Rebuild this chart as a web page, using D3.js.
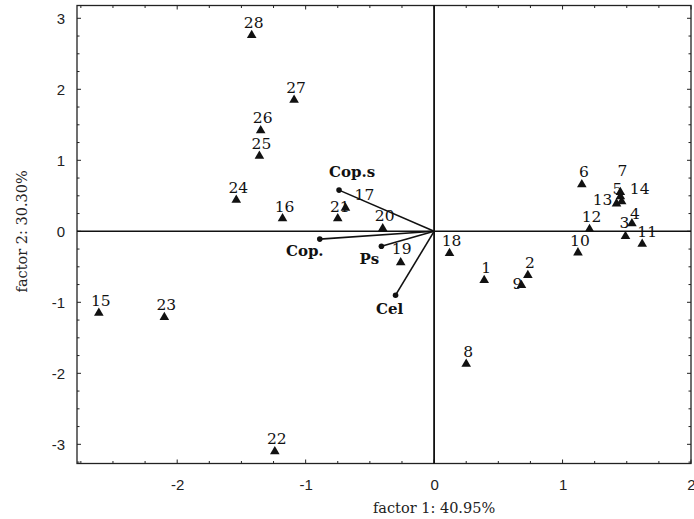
<!DOCTYPE html>
<html>
<head>
<meta charset="utf-8">
<script src="https://cdn.jsdelivr.net/npm/d3@7"></script>
<style>
  html, body { margin: 0; padding: 0; background: #fff; }
  svg { display: block; font-family: "DejaVu Serif", "Liberation Serif", serif; }
  .tick-text { font-size: 15px; fill: #222; }
  .axis-label { font-size: 14.5px; fill: #222; }
  .pt-label { font-size: 15.5px; fill: #111; }
  .var-label { font-size: 15px; font-weight: bold; fill: #111; }
</style>
</head>
<body>
<svg id="chart" width="694" height="519"></svg>
<script>
// observations (PCA scores)
const obsIds = ['1','2','3','4','5','6','7','8','9','10','11','12','13','14',
                '15','16','17','18','19','20','21','22','23','24','25','26','27','28'];
const obsF1 = [0.39, 0.73, 1.49, 1.54, 1.45, 1.15, 1.45, 0.25, 0.68, 1.12, 1.62, 1.21, 1.42, 1.46,
               -2.61, -1.18, -0.69, 0.12, -0.26, -0.40, -0.75, -1.24, -2.10, -1.54, -1.36, -1.35, -1.09, -1.42];
const obsF2 = [-0.69, -0.62, -0.07, 0.11, 0.49, 0.66, 0.55, -1.87, -0.76, -0.30, -0.18, 0.03, 0.39, 0.42,
               -1.15, 0.18, 0.33, -0.31, -0.44, 0.04, 0.18, -3.10, -1.21, 0.44, 1.06, 1.42, 1.85, 2.76];

// variables (loadings)
const varNames = ['Cop.s', 'Cop.', 'Ps', 'Cel'];
const varF1 = [-0.74, -0.89, -0.41, -0.30];
const varF2 = [0.58, -0.11, -0.21, -0.90];

const xTicks = [-2, -1, 0, 1, 2];
const yTicks = [-3, -2, -1, 0, 1, 2, 3];

// label nudges (px) where the default "centred above" would clash
const nudge = {
  '17': [19, -1], '9': [-4, 11], '13': [-14, 8], '14': [18, 0], '5': [-3, 4],
  '7': [2, -9], '11': [5, 0], '3': [-1, -1], '4': [3, 3], '19': [1, -2]
};
const varNudge = {
  'Cop.s': [13, -13, 'middle'], 'Cop.': [-15, 17, 'middle'], 'Ps': [-12, 18, 'middle'], 'Cel': [-6, 19, 'middle']
};

const svg = d3.select('#chart');
const margin = { top: 5.5, right: 3, bottom: 55.5, left: 77 };
const W = 694, H = 519;
const iW = W - margin.left - margin.right;
const iH = H - margin.top - margin.bottom;

const x = d3.scaleLinear().domain([-2.78, 2.0]).range([0, iW]);
const y = d3.scaleLinear().domain([-3.27, 3.18]).range([iH, 0]);

const g = svg.append('g').attr('transform', `translate(${margin.left},${margin.top})`);

// frame
g.append('rect').attr('x', 0).attr('y', 0).attr('width', iW).attr('height', iH)
  .attr('fill', 'none').attr('stroke', '#222').attr('stroke-width', 1.3);

// inside ticks on all four sides
const minorX = d3.range(-2.75, 2.01, 0.25);
const minorY = d3.range(-3.25, 3.01, 0.25);
const isMajor = v => Math.abs(v - Math.round(v)) < 1e-6;
const tickLen = v => isMajor(v) ? 4 : 2.5;

g.append('g').selectAll('line').data(minorX).join('line')
  .attr('x1', d => x(d)).attr('x2', d => x(d)).attr('y1', iH).attr('y2', d => iH - tickLen(d))
  .attr('stroke', '#222');
g.append('g').selectAll('line').data(minorX).join('line')
  .attr('x1', d => x(d)).attr('x2', d => x(d)).attr('y1', 0).attr('y2', d => tickLen(d))
  .attr('stroke', '#222');
g.append('g').selectAll('line').data(minorY).join('line')
  .attr('y1', d => y(d)).attr('y2', d => y(d)).attr('x1', 0).attr('x2', d => tickLen(d))
  .attr('stroke', '#222');
g.append('g').selectAll('line').data(minorY).join('line')
  .attr('y1', d => y(d)).attr('y2', d => y(d)).attr('x1', iW).attr('x2', d => iW - tickLen(d))
  .attr('stroke', '#222');

// axes (labels only)
const xAxis = g.append('g').attr('transform', `translate(0,${iH})`)
  .call(d3.axisBottom(x).tickValues(xTicks).tickSize(0).tickPadding(16).tickFormat(d3.format('d')));
xAxis.select('.domain').remove();
xAxis.selectAll('text').attr('class', 'tick-text').attr('font-family', null).attr('font-size', null);

const yAxis = g.append('g')
  .call(d3.axisLeft(y).tickValues(yTicks).tickSize(0).tickPadding(12).tickFormat(d3.format('d')));
yAxis.select('.domain').remove();
yAxis.selectAll('text').attr('class', 'tick-text').attr('font-family', null).attr('font-size', null);
svg.selectAll('.tick-text').text(d => String(d).replace('\u2212', '-'));

// axis titles
g.append('text').attr('class', 'axis-label')
  .attr('x', x(0)).attr('y', iH + 49).attr('text-anchor', 'middle')
  .text('factor 1: 40.95%');
g.append('text').attr('class', 'axis-label')
  .attr('transform', 'rotate(-90)')
  .attr('x', -y(0)).attr('y', -50).attr('text-anchor', 'middle')
  .text('factor 2: 30.30%');

// zero lines
g.append('line').attr('x1', 0).attr('x2', iW).attr('y1', y(0)).attr('y2', y(0))
  .attr('stroke', '#111').attr('stroke-width', 1.5);
g.append('line').attr('x1', x(0)).attr('x2', x(0)).attr('y1', 0).attr('y2', iH)
  .attr('stroke', '#111').attr('stroke-width', 1.8);

// variable vectors
const vars = varNames.map((n, i) => ({ name: n, f1: varF1[i], f2: varF2[i] }));
g.append('g').selectAll('line').data(vars).join('line')
  .attr('x1', x(0)).attr('y1', y(0))
  .attr('x2', d => x(d.f1)).attr('y2', d => y(d.f2))
  .attr('stroke', '#111').attr('stroke-width', 1.6);
g.append('g').selectAll('circle').data(vars).join('circle')
  .attr('cx', d => x(d.f1)).attr('cy', d => y(d.f2)).attr('r', 2.8).attr('fill', '#111');
g.append('g').selectAll('text').data(vars).join('text')
  .attr('class', 'var-label')
  .attr('x', d => x(d.f1) + varNudge[d.name][0])
  .attr('y', d => y(d.f2) + varNudge[d.name][1])
  .attr('text-anchor', d => varNudge[d.name][2])
  .text(d => d.name);

// observations
const obs = obsIds.map((id, i) => ({ id, f1: obsF1[i], f2: obsF2[i] }));
const tri = d3.symbol().type(d3.symbolTriangle).size(40);
g.append('g').selectAll('path').data(obs).join('path')
  .attr('d', tri)
  .attr('transform', d => `translate(${x(d.f1)},${y(d.f2)})`)
  .attr('fill', '#111');
g.append('g').selectAll('text').data(obs).join('text')
  .attr('class', 'pt-label')
  .attr('text-anchor', 'middle')
  .attr('x', d => x(d.f1) + (nudge[d.id] ? nudge[d.id][0] : 2))
  .attr('y', d => y(d.f2) - 7 + (nudge[d.id] ? nudge[d.id][1] : 0))
  .text(d => d.id);
</script>
</body>
</html>
